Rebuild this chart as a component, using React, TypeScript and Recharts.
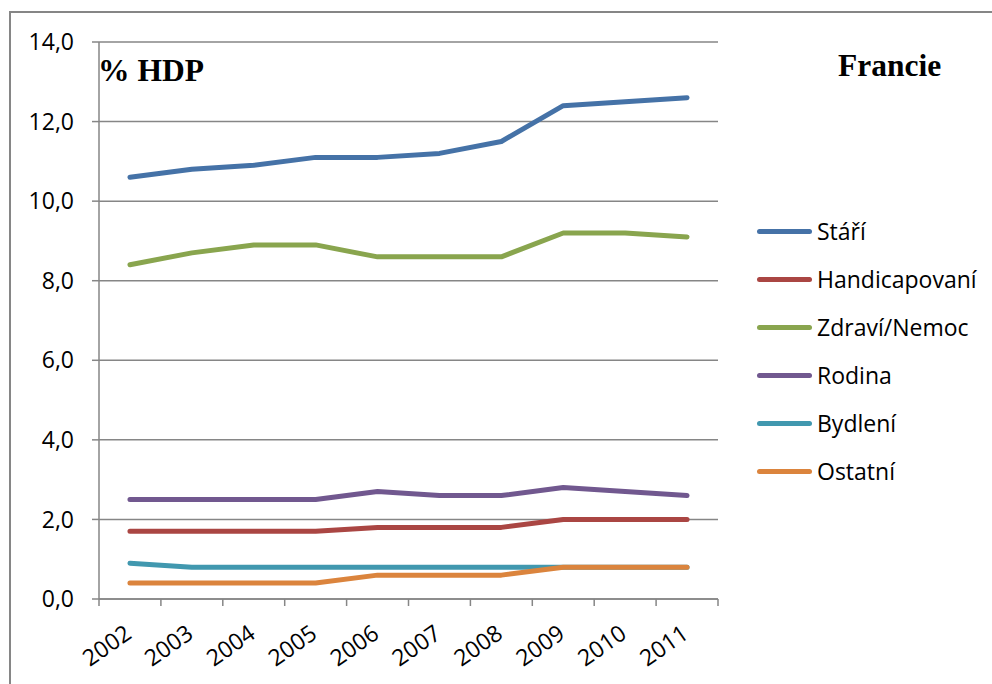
import React from "react";
import { LineChart, Line, XAxis, YAxis, CartesianGrid, Legend } from "recharts";

// Sociální výdaje Francie podle funkce, % HDP
const YEARS = ["2002", "2003", "2004", "2005", "2006", "2007", "2008", "2009", "2010", "2011"];
const STARI = [10.6, 10.8, 10.9, 11.1, 11.1, 11.2, 11.5, 12.4, 12.5, 12.6];
const HANDICAP = [1.7, 1.7, 1.7, 1.7, 1.8, 1.8, 1.8, 2.0, 2.0, 2.0];
const ZDRAVI = [8.4, 8.7, 8.9, 8.9, 8.6, 8.6, 8.6, 9.2, 9.2, 9.1];
const RODINA = [2.5, 2.5, 2.5, 2.5, 2.7, 2.6, 2.6, 2.8, 2.7, 2.6];
const BYDLENI = [0.9, 0.8, 0.8, 0.8, 0.8, 0.8, 0.8, 0.8, 0.8, 0.8];
const OSTATNI = [0.4, 0.4, 0.4, 0.4, 0.6, 0.6, 0.6, 0.8, 0.8, 0.8];
const Y_TICKS = [0, 2, 4, 6, 8, 10, 12, 14];

const SERIES = [
  { key: "stari", name: "Stáří", values: STARI, color: "#4572A7" },
  { key: "handicap", name: "Handicapovaní", values: HANDICAP, color: "#AA4643" },
  { key: "zdravi", name: "Zdraví/Nemoc", values: ZDRAVI, color: "#89A54E" },
  { key: "rodina", name: "Rodina", values: RODINA, color: "#71588F" },
  { key: "bydleni", name: "Bydlení", values: BYDLENI, color: "#4198AF" },
  { key: "ostatni", name: "Ostatní", values: OSTATNI, color: "#DB843D" },
];
const SERIES_ORDER = SERIES.map((s) => s.name);

// Each year sits in the middle of its category band: x = index + 0.5
const data = YEARS.map((year, i) => {
  const row: Record<string, number | string> = { year, x: i + 0.5 };
  SERIES.forEach((s) => {
    row[s.key] = s.values[i];
  });
  return row;
});

const W = 992;
const H = 684;
const Y_AXIS_W = 68;
const LEGEND_W = 235;
const MARGIN = { top: 42, right: 39, bottom: 0, left: 31 };
const PLOT_W = W - MARGIN.left - Y_AXIS_W - MARGIN.right - LEGEND_W;
const BAND = PLOT_W / YEARS.length;
const GRAY = "#868686";
const SANS = "'Open Sans', Lato, sans-serif";
const FONT_SIZE = 23;

const YearTick = (props: any) => {
  const { x, y, payload } = props;
  const idx = payload.value;
  if (idx >= YEARS.length) return null;
  const cx = x + BAND / 2 + 3;
  const cy = y + 29;
  return (
    <text
      x={cx}
      y={cy}
      textAnchor="end"
      transform={`rotate(-35 ${cx} ${cy})`}
      fontFamily={SANS}
      fontSize={FONT_SIZE}
      fill="#000"
    >
      {YEARS[idx]}
    </text>
  );
};

const LegendList = (props: any) => {
  const items = [...(props.payload || [])].sort(
    (a: any, b: any) => SERIES_ORDER.indexOf(a.value) - SERIES_ORDER.indexOf(b.value)
  );
  return (
    <div>
      {items.map((p: any) => (
        <div key={p.value} style={{ display: "flex", alignItems: "center", height: 48 }}>
          <div
            style={{
              width: 55,
              height: 5,
              borderRadius: 3,
              background: p.color,
              marginRight: 5,
            }}
          />
          <span style={{ fontFamily: SANS, fontSize: FONT_SIZE, color: "#000" }}>{p.value}</span>
        </div>
      ))}
    </div>
  );
};

export default function App() {
  return (
    <div
      style={{
        position: "absolute",
        left: 0,
        top: 0,
        width: W,
        height: H,
        overflow: "hidden",
        background: "#fff",
      }}
    >
      <div
        style={{
          position: "absolute",
          left: 9,
          top: 11,
          width: 1100,
          height: 800,
          border: `2px solid ${GRAY}`,
          boxSizing: "border-box",
        }}
      />
      <LineChart width={W} height={H} data={data} margin={MARGIN}>
        <CartesianGrid vertical={false} stroke={GRAY} strokeWidth={1.5} />
        <XAxis
          dataKey="x"
          type="number"
          domain={[0, YEARS.length]}
          ticks={YEARS.map((_, i) => i).concat([YEARS.length])}
          interval={0}
          height={85}
          stroke={GRAY}
          strokeWidth={1.5}
          tickSize={7}
          tick={<YearTick />}
        />
        <YAxis
          domain={[0, 14]}
          ticks={Y_TICKS}
          interval={0}
          width={Y_AXIS_W}
          stroke={GRAY}
          strokeWidth={1.5}
          tickSize={7}
          tickMargin={18}
          tick={{ fill: "#000", fontFamily: SANS, fontSize: FONT_SIZE }}
          tickFormatter={(v: number) => v.toFixed(1).replace(".", ",")}
        />
        <Legend
          layout="vertical"
          verticalAlign="top"
          align="right"
          content={<LegendList />}
          wrapperStyle={{ left: 757, right: "auto", top: 207, width: LEGEND_W }}
        />
        {SERIES.map((s) => (
          <Line
            key={s.key}
            dataKey={s.key}
            name={s.name}
            stroke={s.color}
            strokeWidth={5}
            strokeLinecap="round"
            strokeLinejoin="round"
            dot={false}
            activeDot={false}
            isAnimationActive={false}
          />
        ))}
      </LineChart>
      <div
        style={{
          position: "absolute",
          left: 98,
          top: 53,
          fontFamily: "'Liberation Serif', serif",
          fontWeight: "bold",
          fontSize: 31.5,
          lineHeight: "36px",
        }}
      >
        % HDP
      </div>
      <div
        style={{
          position: "absolute",
          left: 838,
          top: 48,
          fontFamily: "'Liberation Serif', serif",
          fontWeight: "bold",
          fontSize: 31.5,
          lineHeight: "36px",
        }}
      >
        Francie
      </div>
    </div>
  );
}
